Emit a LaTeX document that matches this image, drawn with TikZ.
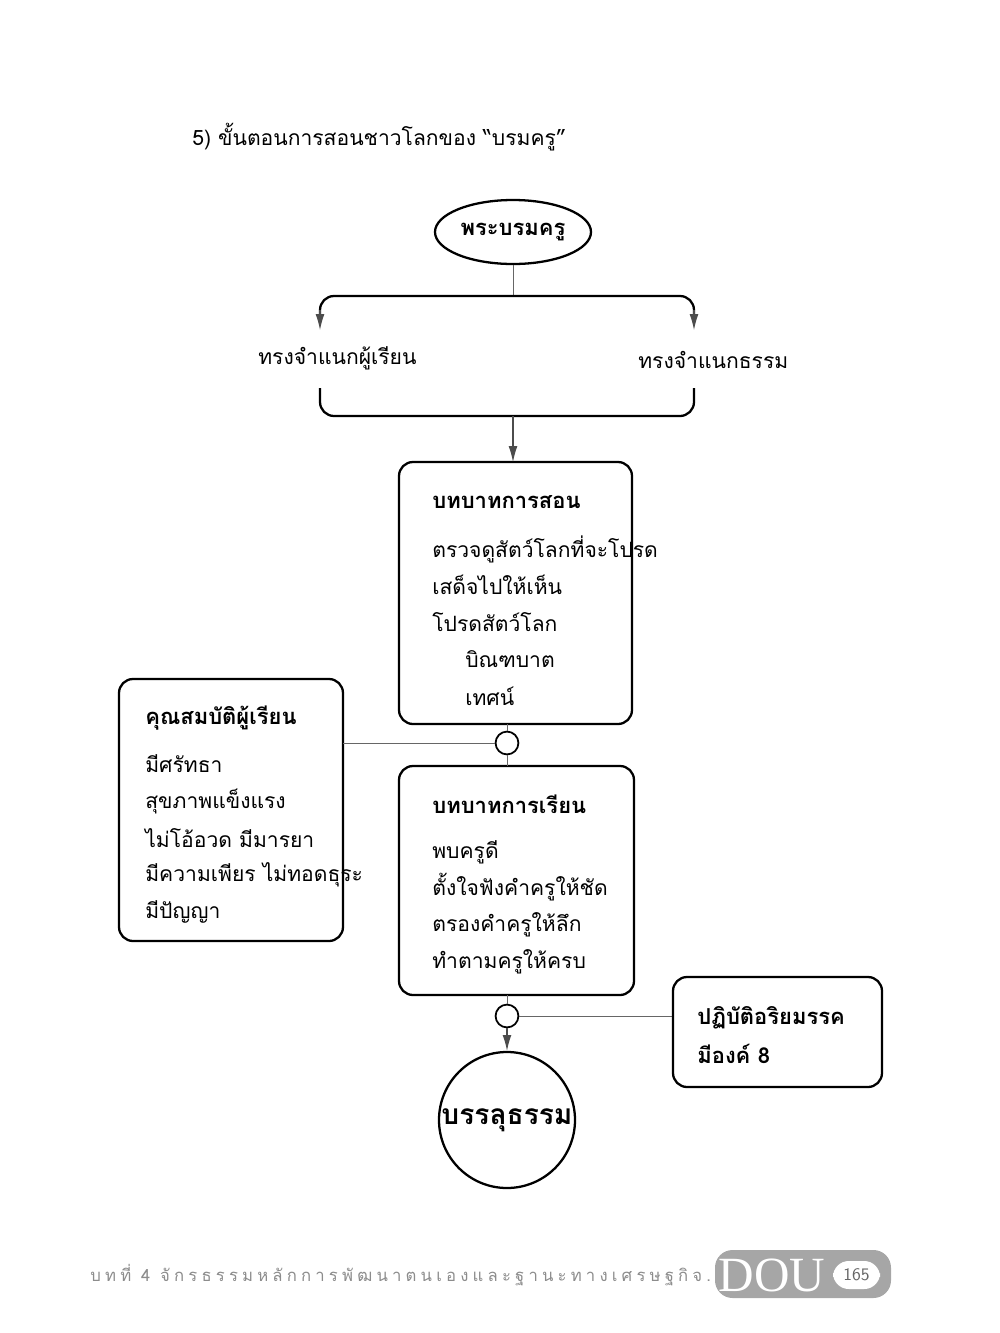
\documentclass[tikz,border=0pt]{standalone}
\usepackage{fontspec}
\setmainfont[Script=Thai]{Loma}
\newfontfamily\spaced[Script=Thai,LetterSpace=25]{Loma}
\newfontfamily\footfont{Liberation Serif}
\usetikzlibrary{arrows.meta,positioning,shapes.geometric}
\begin{document}
\begin{tikzpicture}[x=0.02cm,y=-0.02cm,
  box/.style={draw, line width=1.3pt, rounded corners=8pt},
  txt/.style={anchor=west, inner sep=0, font=\fontsize{12}{14}\selectfont},
  head/.style={anchor=west, inner sep=0, font=\fontsize{12.5}{15}\selectfont\bfseries},
  joint/.style={circle, draw, line width=1pt, fill=white, minimum size=13pt, inner sep=0},
  thin/.style={draw=black!60, line width=0.5pt},
  arr/.style={-{Latex[length=9pt,width=5pt]}, line width=0.6pt, draw=black!70}]
\useasboundingbox (0,0) rectangle (1000,1333);
\node[txt] (title) at (192,137) {5) ขั้นตอนการสอนชาวโลกของ “บรมครู”};
% top
\node[ellipse, draw, line width=1.3pt, minimum width=156*0.02cm, minimum height=64*0.02cm, inner sep=0, font=\fontsize{12.5}{15}\selectfont\bfseries] (guru) at (513,232) {พระบรมครู};
\coordinate (split) at (513,296);
\coordinate (lft) at (320,330);
\coordinate (rgt) at (694,330);
\draw[thin] (guru.south) -- (split);
\draw[line width=1.3pt, rounded corners=8pt] (320,316) -- (320,296) -- (694,296) -- (694,316);
\draw[arr] (320,310) -- (lft);
\draw[arr] (694,310) -- (rgt);
\node[txt] (learner) at (258,358) {ทรงจำแนกผู้เรียน};
\node[txt] (dhamma) at (638,360) {ทรงจำแนกธรรม};
\draw[line width=1.3pt, rounded corners=8pt] (320,388) -- (320,416) -- (694,416) -- (694,388);
\coordinate (merge) at (513,416);
% teaching box
\draw[box] (399,462) rectangle (632,724);
\coordinate (teachtop) at (513,462);
\draw[arr] (merge) -- (teachtop);
\node[head] (teach) at (432,502) {บทบาทการสอน};
\node[txt] at (432,549) {ตรวจดูสัตว์โลกที่จะโปรด};
\node[txt] at (432,585) {เสด็จไปให้เห็น};
\node[txt] at (432,622) {โปรดสัตว์โลก};
\node[txt] at (465,659) {บิณฑบาต};
\node[txt] at (465,696) {เทศน์};
% qualities box
\draw[box] (119,679) rectangle (343,941);
\node[head] (qual) at (145,718) {คุณสมบัติผู้เรียน};
\node[txt] at (145,764) {มีศรัทธา};
\node[txt] at (145,801) {สุขภาพแข็งแรง};
\node[txt] at (145,838) {ไม่โอ้อวด มีมารยา};
\node[txt] at (145,875) {มีความเพียร ไม่ทอดธุระ};
\node[txt] at (145,912) {มีปัญญา};
% learning box
\draw[box] (399,766) rectangle (634,995);
\node[head] (learn) at (432,804) {บทบาทการเรียน};
\node[txt] at (432,852) {พบครูดี};
\node[txt] at (432,887) {ตั้งใจฟังคำครูให้ชัด};
\node[txt] at (432,925) {ตรองคำครูให้ลึก};
\node[txt] at (432,962) {ทำตามครูให้ครบ};
% joints
\node[joint] (j1) at (507,743) {};
\draw[thin] (507,724) -- (j1) -- (507,766);
\draw[thin] (j1) -- (343,743);
\node[joint] (j2) at (507,1016) {};
\draw[thin] (507,995) -- (j2);
\draw[thin] (j2) -- (673,1016);
% path box
\draw[box] (673,977) rectangle (882,1087);
\node[head] at (697,1018) {ปฏิบัติอริยมรรค};
\node[head] at (697,1054) {มีองค์ 8};
% goal
\node[circle, draw, line width=1.3pt, minimum size=136*0.02cm, inner sep=0, font=\fontsize{16}{18}\selectfont\bfseries] (goal) at (507,1120) {บรรลุธรรม};
\draw[arr] (j2) -- (goal);
% footer
\node[txt, text=black!45, font=\spaced\fontsize{9.5}{11}\selectfont, anchor=west] (foot) at (90,1275) {บทที่ 4 จักรธรรมหลักการพัฒนาตนเองและฐานะทางเศรษฐกิจ...};
\fill[black!35, rounded corners=10pt] (715,1250) rectangle (891,1298);
\node[text=white, font=\footfont\fontsize{28}{30}\selectfont, inner sep=0] (dou) at (772,1275) {DOU};
\fill[white, rounded corners=9pt] (833,1261) rectangle (880,1289);
\node[font=\fontsize{10}{12}\selectfont\sffamily, text=black!60, inner sep=0] (page) at (856.5,1275) {165};
\end{tikzpicture}
\end{document}
